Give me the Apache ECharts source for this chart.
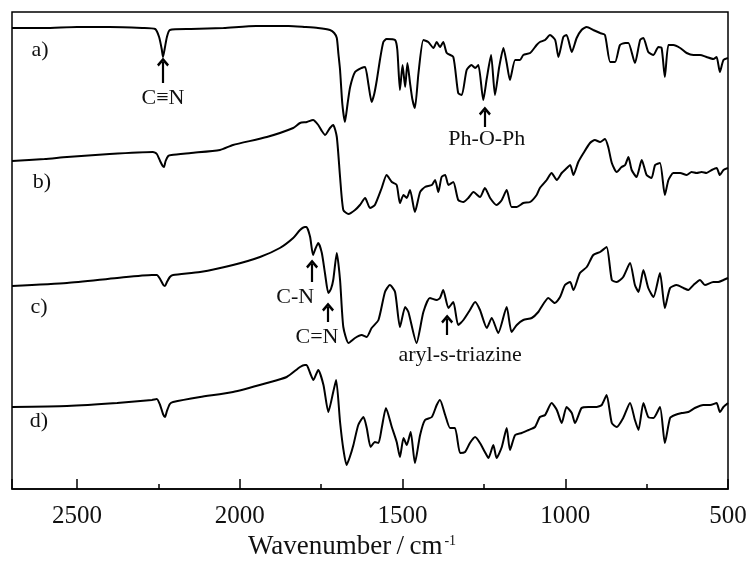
<!DOCTYPE html>
<html>
<head>
<meta charset="utf-8">
<script src="https://cdn.jsdelivr.net/npm/echarts@6/dist/echarts.min.js"></script>
<style>
  html, body { margin: 0; padding: 0; background: #fff; }
  #chart { width: 749px; height: 571px; }
</style>
</head>
<body>
<div id="chart"></div>
<script>
// FTIR spectra, offset transmittance (a.u.) vs wavenumber (cm-1)
const specA = [[2700,461],[2600,461],[2500,462],[2400,462],[2300,461],[2260,460],[2248,452],[2240,440],[2236,432],[2231,440],[2224,452],[2215,459],[2150,460],[2050,461],[1950,463],[1850,463],[1800,462],[1760,461],[1723,459],[1710,456],[1702,451],[1697,435],[1692,419],[1685,385],[1677,367],[1669,385],[1661,402],[1646,417],[1626,421],[1615,422],[1605,405],[1595,387],[1587,395],[1579,409],[1569,430],[1559,447],[1549,450],[1523,449],[1516,439],[1508,399],[1500,424],[1492,402],[1485,426],[1477,406],[1470,390],[1462,381],[1451,416],[1436,449],[1421,447],[1405,441],[1395,447],[1385,442],[1375,447],[1364,436],[1344,432],[1329,396],[1318,394],[1303,419],[1288,424],[1277,421],[1267,424],[1252,389],[1241,411],[1228,434],[1216,394],[1203,422],[1190,441],[1180,426],[1170,409],[1154,429],[1139,429],[1129,434],[1108,436],[1088,444],[1078,447],[1062,449],[1047,454],[1031,449],[1021,432],[1006,452],[996,454],[980,437],[965,451],[950,459],[934,462],[914,459],[893,456],[878,454],[862,427],[847,427],[832,444],[816,446],[806,446],[786,426],[770,449],[760,451],[745,437],[729,434],[714,442],[704,441],[694,412],[683,444],[668,444],[647,441],[627,436],[606,434],[586,434],[566,432],[545,430],[535,432],[525,417],[514,429],[500,431]];

const specB = [[2700,328],[2600,330],[2531,332],[2400,335],[2267,337],[2255,335],[2245,328],[2237,323],[2233,322],[2228,328],[2220,333],[2210,334],[2150,336],[2061,339],[2021,344],[1917,352],[1836,361],[1815,366],[1794,367],[1775,369],[1759,364],[1748,358],[1738,354],[1723,361],[1713,364],[1702,352],[1692,312],[1682,279],[1666,275],[1646,279],[1631,284],[1615,291],[1600,281],[1585,284],[1564,301],[1549,314],[1533,307],[1518,304],[1508,286],[1497,294],[1487,291],[1477,299],[1462,277],[1446,297],[1431,302],[1410,304],[1400,309],[1390,297],[1380,312],[1369,314],[1359,304],[1344,307],[1329,289],[1313,287],[1298,291],[1282,297],[1262,292],[1247,301],[1231,291],[1211,284],[1195,289],[1180,299],[1165,282],[1149,282],[1129,286],[1108,287],[1088,294],[1078,301],[1057,309],[1042,316],[1026,309],[1011,316],[995,321],[985,324],[975,314],[960,327],[944,336],[924,346],[909,349],[893,347],[878,350],[868,342],[857,326],[842,317],[827,322],[816,324],[806,332],[796,319],[781,312],[765,329],[750,314],[735,311],[724,324],[709,326],[694,294],[683,309],[668,316],[647,316],[627,314],[612,317],[596,316],[581,317],[566,316],[550,319],[535,321],[525,314],[514,319],[500,321]];

const specC = [[2700,203],[2531,206],[2377,211],[2270,214],[2255,214],[2245,210],[2235,204],[2230,203],[2224,207],[2215,212],[2205,214],[2122,217],[2021,224],[1938,232],[1877,241],[1836,251],[1815,259],[1800,262],[1795,262],[1784,252],[1775,234],[1768,240],[1759,246],[1748,236],[1738,215],[1728,196],[1720,200],[1713,209],[1702,236],[1692,209],[1682,162],[1666,146],[1646,151],[1626,154],[1610,152],[1595,161],[1574,169],[1554,197],[1539,204],[1523,197],[1508,162],[1492,182],[1482,177],[1457,146],[1436,177],[1416,191],[1395,189],[1385,191],[1375,199],[1359,181],[1344,187],[1329,164],[1313,169],[1293,179],[1277,187],[1262,179],[1241,161],[1226,171],[1206,156],[1180,182],[1165,157],[1149,164],[1129,169],[1103,171],[1083,177],[1052,191],[1032,186],[1016,192],[1001,204],[985,207],[975,199],[955,216],[934,222],[914,234],[893,237],[873,242],[857,209],[842,207],[822,212],[801,226],[786,204],[775,197],[760,219],[745,201],[729,192],[709,216],[694,181],[678,201],[658,204],[637,201],[622,199],[606,204],[586,209],[571,204],[545,207],[530,207],[514,209],[500,211]];

const specD = [[2700,82],[2531,83],[2377,86],[2270,89],[2255,90],[2245,84],[2236,75],[2230,72],[2224,78],[2215,85],[2205,87],[2122,92],[2021,97],[1917,106],[1856,112],[1815,122],[1800,124],[1795,124],[1784,116],[1774,109],[1759,119],[1743,104],[1728,77],[1713,97],[1704,109],[1692,67],[1682,40],[1672,24],[1662,32],[1651,44],[1636,64],[1620,72],[1610,61],[1598,42],[1585,47],[1574,46],[1564,61],[1551,81],[1533,62],[1518,47],[1508,32],[1497,51],[1487,44],[1475,57],[1462,26],[1446,54],[1431,69],[1410,72],[1395,84],[1385,89],[1369,74],[1354,61],[1339,61],[1323,36],[1308,37],[1293,46],[1277,52],[1262,46],[1247,37],[1236,31],[1221,44],[1211,31],[1195,42],[1180,61],[1170,39],[1154,54],[1134,56],[1113,59],[1093,62],[1078,72],[1062,74],[1042,86],[1026,79],[1011,66],[996,82],[980,76],[970,66],[950,81],[929,82],[904,82],[888,84],[873,94],[857,66],[842,62],[822,71],[801,86],[786,69],[775,59],[760,86],[745,72],[729,71],[709,82],[694,46],[678,71],[663,74],[642,76],[622,77],[602,81],[576,84],[555,84],[535,86],[525,77],[514,82],[500,86]];

// sample tags and band assignments: [text, wavenumber, y]
const sampleTags = [['a)', 2614, 439], ['b)', 2608, 307], ['c)', 2617, 182], ['d)', 2617, 68]];
const bandTags = [['C≡N', 2236, 391], ['Ph-O-Ph', 1241, 350], ['C-N', 1830, 192], ['C=N', 1763, 152], ['aryl-s-triazine', 1323, 134]];
// arrows: [wavenumber, tail y, head y]
const bandArrows = [[2236, 406, 427], [1247, 362, 378], [1778, 207, 225], [1729, 167, 182], [1363, 154, 170]];

const FONT = '"Liberation Serif", "Times New Roman", serif';
// open arrow head, like a "↑" glyph
const CHEVRON = 'path://M6,0 L12,6.4 L10.3,8.1 L6,3.6 L1.7,8.1 L0,6.4 Z';
const chart = echarts.init(document.getElementById('chart'));

const lineSeries = [specA, specB, specC, specD].map(d => ({
  type: 'line',
  data: d,
  showSymbol: false,
  smooth: 0.2,
  lineStyle: { color: '#000', width: 2 },
  animation: false,
  silent: true
}));

lineSeries[0].markPoint = {
  symbol: 'rect',
  symbolSize: 1,
  itemStyle: { color: 'transparent' },
  silent: true,
  animation: false,
  label: { show: true, position: 'inside', color: '#111', fontFamily: FONT, fontSize: 22, formatter: p => p.name },
  data: sampleTags.concat(bandTags).map(t => ({ name: t[0], coord: [t[1], t[2]] }))
};
lineSeries[0].markLine = {
  symbol: ['none', CHEVRON],
  symbolSize: [12, 9],
  silent: true,
  animation: false,
  label: { show: false },
  lineStyle: { color: '#000', width: 2.2, type: 'solid' },
  data: bandArrows.map(a => [{ coord: [a[0], a[1]] }, { coord: [a[0], a[2]] }])
};

chart.setOption({
  backgroundColor: '#fff',
  animation: false,
  grid: {
    left: 12, right: 21, top: 12, bottom: 82,
    outerBoundsMode: 'none',
    show: true, borderColor: '#000', borderWidth: 1.5
  },
  xAxis: [{
    type: 'value', inverse: true, min: 500, max: 2700, interval: 500,
    position: 'bottom',
    name: 'Wavenumber\u2009/\u2009cm{sup|-1}',
    nameLocation: 'middle', nameGap: 35,
    nameTextStyle: {
      color: '#111', fontFamily: FONT, fontSize: 27,
      padding: [0, 36, 0, 0],
      rich: { sup: { fontSize: 14, verticalAlign: 'top', fontFamily: FONT, color: '#111', padding: [0, 0, 12, 2] } }
    },
    axisLine: { show: true, lineStyle: { color: '#000', width: 1.5 } },
    axisTick: { show: true, inside: true, length: 10, lineStyle: { color: '#000', width: 1.5 } },
    axisLabel: {
      color: '#111', fontFamily: FONT, fontSize: 25, margin: 15,
      formatter: v => (v % 500 === 0 ? String(v) : '')
    },
    splitLine: { show: false }
  }, {
    type: 'value', inverse: true, min: 500, max: 2700, interval: 250,
    position: 'bottom', offset: 0,
    axisLine: { show: false },
    axisTick: { show: true, inside: true, length: 5, lineStyle: { color: '#000', width: 1.5 } },
    axisLabel: { show: false },
    splitLine: { show: false }
  }],
  yAxis: { type: 'value', min: 0, max: 477, show: false },
  series: lineSeries
});
</script>
</body>
</html>
